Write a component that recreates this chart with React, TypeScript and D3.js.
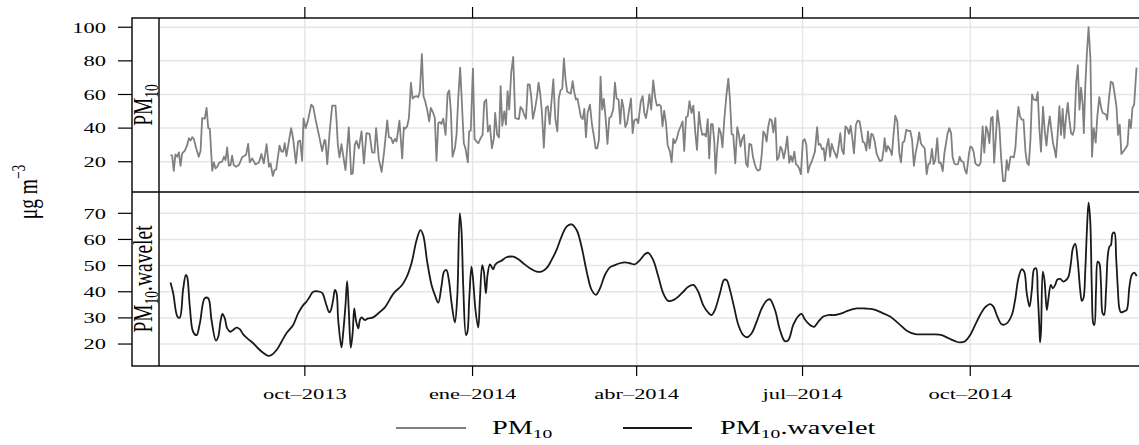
import React from 'react';
import * as d3 from 'd3';

// ---------------- data (day offsets from 2013-10-01, µg m-3) ----------------
const pm10Series: [number, number][] = [
  [-73.7,24],[-72.8,23.6],[-71.9,14.6],[-71,24.4],[-70,23],[-69.1,25.6],[-68.2,17.6],[-67.3,25],[-65.8,26.6],[-64.5,30],[-63.6,34],[-62.7,32.6],[-61.8,34.6],[-60.9,33.6],[-59.6,28],[-58.2,23],[-57.2,26.6],[-56.3,46],[-54.9,45.6],[-53.9,52],[-53,40],[-52.1,39.6],[-50.8,14.6],[-49.9,19.6],[-49,16],[-48.1,17],[-46.8,19.6],[-45.4,20],[-44.4,23],[-43.5,21],[-42.6,28.6],[-41.7,17.6],[-40.8,18],[-39.9,23.6],[-39,18],[-37.7,17],[-36.2,18],[-34.4,22.6],[-32.2,24.2],[-31.1,30.6],[-30.2,19.6],[-28.9,22],[-27.1,18.4],[-25.2,19.6],[-23.8,24.6],[-22.5,19],[-21,30.4],[-19.7,17],[-18.8,19],[-17.6,11.6],[-16.6,15],[-15.7,15.4],[-13.9,29.6],[-12.8,26],[-11.9,26],[-11,31],[-10.1,23.4],[-8.8,32],[-7.5,40],[-6.4,33.6],[-4.9,19],[-3.7,32],[-2.6,32.6],[-1.5,20.6],[-0.7,45.8],[0.4,40],[1.6,44],[3.5,54],[4.6,52.6],[5.9,45],[7.7,36],[9.5,26.4],[10.8,33],[11.3,32.6],[12.3,18.6],[13.7,39],[15,53.4],[16.8,53.4],[17.4,44.4],[18.1,30],[19,22.6],[20.1,30.4],[21,24],[22.3,15],[24.1,40.4],[25.4,12.6],[26.3,13],[27.4,30],[28.3,32.4],[29.6,28],[31.1,38],[32.4,19],[33.8,37],[35.5,36.6],[36.9,25.6],[38.2,25.4],[39.1,40],[40.6,21.4],[42.1,14],[43.5,26],[45.2,44.6],[46.1,34.6],[47.4,34],[48.3,31],[49.4,33.6],[50.3,32],[51.9,44.4],[53.4,22],[54.3,40.4],
  [54.9,39.6],[56.1,41],[57.1,46],[58.2,67],[59.1,57.6],[60,58.6],[61.3,59],[62.2,58.4],[63.1,62],[64.2,84],[65.1,59],[66,56],[67.1,51],[68.2,44],[69.1,52],[70.4,49],[71.3,46],[72.2,20.6],[73.2,43],[74.1,43.6],[74.9,42.4],[75.9,45.6],[77.2,36],[78.3,60.6],[79.2,62.4],[80.1,50],[81,23],[82.3,28],[83.2,36],[84.1,57],[85.2,76],[86.1,56],[87.2,31],[88.1,28],[89.4,19.6],[90.1,38],[91,38.6],[92.2,75.4],[93.1,33.6],[94.2,32],[95.2,31],[96.4,34],[97.5,36],[98.4,55.4],[99.5,57],[100.4,38],[101.5,41.6],[102.6,28],[103.7,34],[104.4,49],[105.5,36],[106.5,34.4],[107.4,65],[108.3,41.4],[109.4,50],[110.3,42],[111.2,62],[112.1,51],[113.2,73],[114.3,82.4],[115.4,46],[116.5,45.6],[117.4,45.4],[118.3,52.6],[119.4,51],[120.3,48],[121.3,45.6],[122.3,66],[123.3,66],[124.2,58.6],[125.1,45.6],[126.2,51],[127.3,58.4],[128.2,67],[129.1,60.6],[130,50],[131.1,28.4],[132.2,52],[133.3,53],[134.3,42.4],[135.3,56],[136.3,69],[137.4,45.6],[138.5,38],[139.3,58],[140.3,62.6],[141.2,63.4],[142.1,81.4],[143,69],[143.9,61.6],[145,61],[145.9,60.6],[146.9,68],[147.8,61.4],[148.7,57],[149.6,57.4],[150.5,52],[151.4,46.6],[152.4,45.4],[153.3,51.4],[154.2,34.6],[155.1,49],[156.4,54],[157.5,42],[158.6,35],[159.5,28],[160.4,28],[161.3,33],[162.2,70.6],[163.1,51],[164,57.4],[165,46],[166,30.6],[167,46],[168.1,47],[169.2,51.4],[170.1,67],[171,57.6],[172.1,57],[173,42.6],[173.9,57],[174.8,52],[175.8,40.6],[176.8,43],[177.9,51],[178.9,57.6],[179.8,37],[180.7,44.6],[182,45.4],[182.9,43],
  [184.3,56],[185.3,59],[186.2,49],[187.1,46],[188.1,52],[189,60],[190,51],[191.1,68.4],[192.2,58],[193.1,53.4],[194.4,54],[195.3,53],[196.2,41],[197.1,50.4],[198.1,43],[199,30],[200.3,26],[201.2,19.6],[202.1,33.6],[203,31],[204,33.6],[205,38],[206.3,41.4],[207.2,44],[208.1,26.4],[209.1,46.4],[210,47],[211,56],[212.1,49],[213.1,53.4],[214.2,37],[215.1,27],[216.2,49.6],[217.1,41],[218,36],[219.1,36.6],[220,35],[221,45.4],[221.8,22],[222.8,42.4],[223.7,42.4],[224.6,32],[225.3,13],[226.2,28],[227.2,40],[228.2,37],[229.1,28.6],[230.1,45.4],[231.2,59],[232.3,69.4],[233.2,57],[234.1,36.4],[235,36],[236.1,19],[237.2,40.6],[238.1,36],[239,29],[239.9,33.6],[240.9,36],[242,19],[242.9,17],[243.8,30.6],[244.9,30],[245.8,23],[246.7,19],[247.6,16],[248.6,14.6],[249.7,15.4],[250.6,24],[251.5,38],[252.4,36.4],[253.3,32],[254.2,41],[255.1,45.4],[256.1,44.6],[257,37.4],[258.1,46],[259,21],[259.9,22.4],[260.9,29],[261.8,27],[262.7,22],[263.7,27.6],[264.6,35],[265.7,19.4],[266.6,23.4],[267.5,20],[268.5,26],[269.4,18.6],[270.3,17.6],[271.2,16],[272.1,12.6],[273.2,32.4],[274.2,33.4],[275.1,30],[276,13.6],[277.1,18],[278,20],[278.9,23],[279.8,26],[281,40.6],[281.8,30],[282.8,30.6],[283.7,27.4],[284.6,28],[285.3,20.6],[286.2,28.6],[287.2,33.6],[288.1,23],[289,30.6],[289.9,27.4],[290.8,25],[291.8,22.4],[292.7,28.4],[293.7,37],[294.6,27],[295.6,24.6],[296.5,41],[297.5,40],[298.5,36.6],[299.4,41.4],[300.3,34],[301.2,25],[302.3,42],[303.2,44.4],[304.3,44],[305.2,38],[306.1,31.6],[307,31.4],[308,26.6],[308.9,38],[309.8,28],[310.7,36.6],[311.6,36],[312.6,32],[313.6,25],[314.5,22.6],[315.4,20.4],[316.6,21],[317.5,27.4],
  [318,34],[318.9,26],[319.8,29.4],[321.1,27],[322,24],[322.9,36],[323.9,47.4],[325,44],[326.1,25],[327,19.6],[327.9,31.4],[328.8,32],[329.9,39],[330.8,38.4],[332.1,38.4],[333.1,33],[334.1,17.6],[335,25],[336.1,31],[337,37.4],[337.9,31],[338.9,29.4],[340,28],[341.1,12.6],[342,18.6],[342.9,19],[344,27.6],[344.9,18.6],[345.8,21],[346.9,34],[347.8,19.4],[348.8,19.4],[349.9,14.4],[350.8,25],[351.7,31],[352.6,37],[353.5,40],[354.5,37],[355.3,23],[356.3,19],[357.2,18.4],[358.3,18.6],[359.2,23],[360.1,20.4],[361.2,20],[362.1,15],[363,13],[364.2,24],[365,29],[366,28.4],[366.9,25.6],[367.8,19],[368.8,18],[369.7,17.6],[370.7,19.4],[371.8,41],[372.7,25.4],[373.7,41],[374.6,38],[375.5,31],[376.4,46],[377.3,46.6],[378.1,19.4],[379,34],[379.9,50.6],[381,40.6],[381.9,23],[383,8.4],[384.1,8.6],[385,21],[385.9,15],[387.1,23],[387.9,23],[388.9,22.6],[389.8,28.6],[390.5,41],[391.4,52.6],[392.3,47],[393.2,45],[394.2,45],[395.3,26],[396.1,19.6],[397.1,18],[398,33],[398.9,60],[399.8,57],[401.1,56.4],[402,61.4],[402.9,40],[403.8,26],[404.9,52.6],[405.8,39],[406.8,29.6],[407.7,40],[408.6,47],[409.5,39],[410.4,31],[411.3,27],[412,22.6],[413,37],[413.9,53],[414.8,36],[415.7,51.4],[416.6,34],[417.5,46],[418.5,55],[419.4,44.6],[420.3,37],[421.2,36],[422.1,39.4],[423.1,67],[424,77.4],[424.9,51],[425.8,64],[426.7,54],[427.3,37],[428.1,65],[429,85],[429.9,100],[430.9,81.4],[431.8,23],[432.7,40],[433.8,31.4],[434.7,47],[435.8,58.4],[436.8,52],[437.7,49],[438.6,48.6],[439.5,48],[440.1,45],[441,56.6],[442.1,67.6],[443.2,67],[444.1,61],[445.2,53],[446.1,36],[447,42],[447.9,24.6],[448.9,26],[450.2,28],[451.3,30],[452.2,45],[453.1,40],[454,52],[454.9,54],[456.2,76]
];

const waveletSeries: [number, number][] = [
  [-73.7,43.5],[-72.2,39.4],[-69.9,30.5],[-68.6,30.1],[-66.8,40.7],[-65.3,46.4],[-64.6,45.8],[-63.1,34.3],[-61.3,24.7],[-59.4,23.4],[-57.6,27.9],[-54.9,37.5],[-53,37.5],[-51.2,29.2],[-48.8,21.3],[-47.5,22.8],[-46.3,28.5],[-45.2,31.5],[-43.9,29.8],[-42.6,26],[-40.8,24.7],[-39.3,25.4],[-37.5,26.3],[-35.7,25.7],[-33.8,23.7],[-31.1,21.9],[-28.3,20.3],[-25.6,18.3],[-22.9,16.7],[-20.1,15.5],[-18.3,15.8],[-15.5,17.7],[-12.8,20.9],[-10.1,24.1],[-6.4,27.3],[-3.7,31.7],[-0.9,34.9],[0.9,36.2],[2.7,38.1],[4.6,40],[8.2,40],[9.7,39.4],[11.5,35.6],[13.4,32.1],[14.3,33],[15.5,36.8],[16.5,40.7],[17.4,39.4],[18.3,29.2],[20.1,18.7],[21,24.1],[22.3,34.9],[23.2,44.1],[24.1,33],[25.2,18.6],[26.2,24.1],[27.1,33.6],[28,29.2],[29.3,26],[30.2,29.2],[31.1,30.2],[32.9,29.2],[34.7,29.8],[37.5,30.2],[40.2,31.7],
  [43.9,34],[48.7,39.4],[53,42.3],[55.7,45.4],[58.5,50.9],[61.3,59.8],[63.4,63.6],[64.9,61.7],[67.1,51.5],[69.5,42.6],[71.3,38.8],[73.2,35.8],[74.9,41.9],[76.4,47.7],[77.7,48.3],[79,44.5],[80.5,35.6],[82.3,28.2],[83.6,38.1],[85,70],[85.9,63.6],[86.9,41.9],[88.4,23.4],[89.2,24.7],[90.2,37.5],[91.4,49.6],[92.3,44.5],[93.6,33],[95.1,26.3],[96,36.8],[97.3,50.2],[98.2,47.7],[99.3,39.4],[100.2,46.4],[101.5,50.5],[102.4,49.6],[103.3,48.6],[104.3,50.2],[105.5,51.1],[107.9,51.9],[110.6,53.2],[114.3,53.4],[117,52.5],[119.8,50.9],[123.4,49],[127.1,47.7],[129.8,47.7],[132.6,49],[135.3,52.1],[138.1,56],[140.8,61.1],[143.6,64.9],[146.3,65.8],[149.1,63.6],[151.8,57.2],[154.6,47.7],[157.3,40.7],[159.7,38.8],[161.9,41.3],[164.6,46.4],[167.3,49.3],[170.1,50.2],[172.8,50.9],[175.6,51.2],[178.3,50.9],[181,50.5],[183.8,52.1],[186.6,54.4],[188.4,54.9],[191.1,52.1],[193.9,45.8],[196.6,39.4],[199.3,36.5],[202.1,36.8],[204.8,38.1],[207.6,40],[210.3,41.9],[213.1,42.6],[215.8,40],[218.5,34.9],[221.3,32],[223.1,31.1],[224.9,33],[227.7,39.4],[229.9,44.5],[231.3,44.5],[233.2,40.7],[235.4,34.3],[237.8,27.3],[240.5,23.4],[242.7,22.6],[245.1,24.1],[247.8,28.5],[250.6,33.6],[253.3,36.6],
  [255.1,37.1],[257.9,33],[260.6,25.4],[263.3,21.1],[265.2,21.5],[267.9,27.3],[270.7,30.7],[272.5,31.5],[274.3,29.4],[277.1,27.3],[279.3,26.6],[281.6,28.5],[284.4,30.5],[287.1,31.1],[290.8,31.1],[294.4,31.7],[298.1,32.8],[302.7,33.6],[307.3,33.6],[311.9,33.3],[316.4,32],[321,30.5],[325.6,27.9],[330.2,25.1],[334.8,23.8],[339.3,23.7],[344.8,23.7],[349.4,23.4],[353.1,22.2],[356.7,21.1],[359.4,20.6],[362.2,21.1],[364.9,23.4],[367.7,27.3],[370.4,31.1],[373.1,34],[375.9,35.3],[377.7,34.3],[379.9,30.5],[382.3,27.5],[385,27.9],[387.8,31.1],[389.6,36.8],[391.4,45.1],[393.2,48.6],[394.6,47.7],[396,39.4],[397.5,34.3],[398.8,40.7],[400,48.6],[401.1,49],[402,39.4],[402.9,26.6],[403.3,20.6],[403.8,24.7],[404.8,47.7],[405.7,44.5],[407,33],[407.9,37.5],[409.2,42.6],[410.3,41.3],[411.6,42.6],[412.8,44.7],[414.3,44.9],[416.1,43.9],[417.6,44.5],[418.9,45.8],[420.2,50.9],[421.3,56.6],[422.6,58.3],[423.9,52.1],[425.3,40.7],[426.2,36.5],[427.1,37.5],[428.1,48.3],[429,63.6],[429.9,74.1],[430.8,67.4],[431.7,40.7],[432.5,27.9],[433.1,27.3],[434,40.7],[434.9,51.5],[435.8,50.9],[436.7,43.2],[437.6,31.7],[438.4,31.1],[439.5,40.7],[440.4,53.4],[441.3,57.2],[442.2,57.9],[443.1,62.3],[444.1,62.6],[445,53.4],[445.9,41.9],[446.8,33.6],[447.7,32.1],[449.6,32.6],[450.8,33],[452.3,41.9],[453.6,46.4],[454.9,47.3],[456.3,46]
];

const xTickDates = ['2013-10-01', '2014-01-01', '2014-04-01', '2014-07-01', '2014-10-01'];
const xTickLabels = ['oct–2013', 'ene–2014', 'abr–2014', 'jul–2014', 'oct–2014'];
const pm10Ticks = [20, 40, 60, 80, 100];
const waveletTicks = [20, 30, 40, 50, 60, 70];
const xDomainDays = [-80, 462.5];
const pm10Domain = [2, 105.5];
const waveletDomain = [11.6, 78.15];

// ---------------- layout ----------------
const W = 1139, H = 445;
const FRAME_L = 132, PLOT_L = 159, PLOT_R = 1148;
const TOP = 18, MID = 192, BOT = 366;
const SX = 1.45; // horizontal text stretch of the reference
const FONT = "'Liberation Serif', 'Times New Roman', serif";
const GRID = '#e6e6e6';

const DAY = 86400000;
const ORIGIN = Date.UTC(2013, 9, 1);
const dayToDate = (d: number) => new Date(ORIGIN + d * DAY);

const x = d3.scaleUtc().domain(xDomainDays.map(dayToDate)).range([PLOT_L, PLOT_R]);
const yTop = d3.scaleLinear().domain(pm10Domain).range([MID, TOP]);
const yBot = d3.scaleLinear().domain(waveletDomain).range([BOT, MID]);

const xTicks = xTickDates.map((s) => new Date(s + 'T00:00:00Z'));

function Txt(props: { x: number; y: number; rot?: boolean; anchor?: string; size: number; children: any; fill?: string }) {
  const { x: tx, y: ty, rot, anchor = 'middle', size, children, fill = '#000' } = props;
  return (
    <text
      transform={`translate(${tx},${ty}) scale(${SX},1)${rot ? ' rotate(-90)' : ''}`}
      textAnchor={anchor}
      fontSize={size}
      fontFamily={FONT}
      fill={fill}
    >
      {children}
    </text>
  );
}

export default function App() {
  const pm10Line = d3
    .line<[number, number]>()
    .x((d) => x(dayToDate(d[0])))
    .y((d) => yTop(d[1]))
    .curve(d3.curveLinear);
  const waveLine = d3
    .line<[number, number]>()
    .x((d) => x(dayToDate(d[0])))
    .y((d) => yBot(d[1]))
    .curve(d3.curveCatmullRom.alpha(0.5));

  const panels = [
    { key: 'p1', y: yTop, top: TOP, bottom: MID, ticks: pm10Ticks, d: pm10Line(pm10Series), color: '#808080' },
    { key: 'p2', y: yBot, top: MID, bottom: BOT, ticks: waveletTicks, d: waveLine(waveletSeries), color: '#1a1a1a' },
  ];

  return (
    <svg width={W} height={H} style={{ position: 'absolute', left: 0, top: 0, background: '#fff' }}>
      <defs>
        {panels.map((p) => (
          <clipPath id={`clip-${p.key}`} key={p.key}>
            <rect x={PLOT_L} y={p.top} width={PLOT_R - PLOT_L} height={p.bottom - p.top} />
          </clipPath>
        ))}
      </defs>
      <rect x={0} y={0} width={W} height={H} fill="#fff" />

      {panels.map((p) => (
        <g key={p.key}>
          {p.ticks.map((t) => (
            <line key={`h${t}`} x1={PLOT_L} x2={PLOT_R} y1={p.y(t)} y2={p.y(t)} stroke={GRID} strokeWidth={1.5} />
          ))}
          {xTicks.map((t, i) => (
            <line key={`v${i}`} x1={x(t)} x2={x(t)} y1={p.top} y2={p.bottom} stroke={GRID} strokeWidth={1.5} />
          ))}
          <path d={p.d || ''} fill="none" stroke={p.color} strokeWidth={1.8} strokeLinejoin="round" clipPath={`url(#clip-${p.key})`} />
          {p.ticks.map((t) => (
            <g key={`yt${t}`}>
              <line x1={118} x2={FRAME_L} y1={p.y(t)} y2={p.y(t)} stroke="#000" strokeWidth={1.2} />
              <Txt x={106} y={p.y(t) + 5.3} anchor="end" size={15.5}>
                {t}
              </Txt>
            </g>
          ))}
        </g>
      ))}

      <rect x={FRAME_L} y={TOP} width={PLOT_R - FRAME_L} height={BOT - TOP} fill="none" stroke="#000" strokeWidth={1.4} />
      <line x1={PLOT_L} x2={PLOT_L} y1={TOP} y2={BOT} stroke="#000" strokeWidth={1.4} />
      <line x1={FRAME_L} x2={PLOT_R} y1={MID} y2={MID} stroke="#000" strokeWidth={1.4} />

      {xTicks.map((t, i) => (
        <g key={`xt${i}`}>
          <line x1={x(t)} x2={x(t)} y1={7} y2={TOP} stroke="#000" strokeWidth={1.2} />
          <line x1={x(t)} x2={x(t)} y1={BOT} y2={376} stroke="#000" strokeWidth={1.2} />
          <Txt x={x(t)} y={398.5} size={15.5}>
            {xTickLabels[i]}
          </Txt>
        </g>
      ))}

      <Txt x={152} y={(TOP + MID) / 2} rot size={19.5}>
        PM<tspan dy={4} fontSize={13.5}>10</tspan>
      </Txt>
      <Txt x={152} y={(MID + BOT) / 2} rot size={19.5}>
        PM<tspan dy={4} fontSize={13.5}>10</tspan>
        <tspan dy={-4}>.wavelet</tspan>
      </Txt>

      <Txt x={37} y={192} rot size={19.5}>
        μg m<tspan dy={-8} fontSize={13.5}>−3</tspan>
      </Txt>

      <line x1={396} x2={466} y1={428} y2={428} stroke="#808080" strokeWidth={1.8} />
      <Txt x={492} y={434} anchor="start" size={19.5}>
        PM<tspan dy={4} fontSize={13.5}>10</tspan>
      </Txt>
      <line x1={623} x2={692} y1={428} y2={428} stroke="#1a1a1a" strokeWidth={1.8} />
      <Txt x={720} y={434} anchor="start" size={19.5}>
        PM<tspan dy={4} fontSize={13.5}>10</tspan>
        <tspan dy={-4}>.wavelet</tspan>
      </Txt>
    </svg>
  );
}
